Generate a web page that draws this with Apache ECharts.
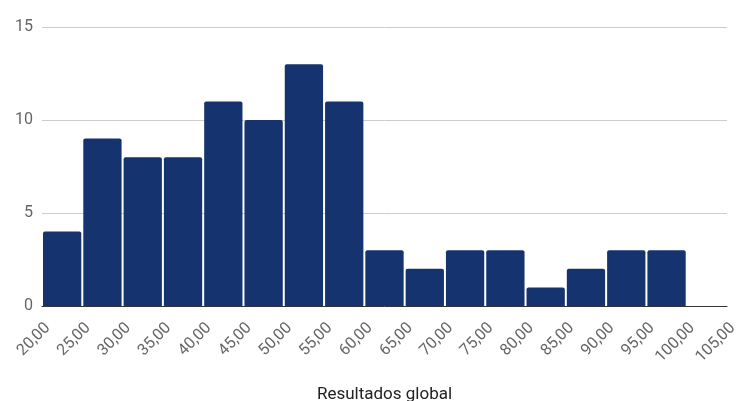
<!DOCTYPE html>
<html>
<head>
<meta charset="utf-8">
<script src="https://cdn.jsdelivr.net/npm/echarts@6/dist/echarts.min.js"></script>
<style>
  html, body { margin: 0; padding: 0; background: #fff; }
  #chart { width: 738px; height: 401px; }
</style>
</head>
<body>
<div id="chart"></div>
<script>
// Histogram bins: lower edge of each 5-point interval and its count
const binStarts = [20, 25, 30, 35, 40, 45, 50, 55, 60, 65, 70, 75, 80, 85, 90, 95, 100];
const binWidth = 5;
const counts = [4, 9, 8, 8, 11, 10, 13, 11, 3, 2, 3, 3, 1, 2, 3, 3, 0];
const axisTitle = 'Resultados global';

const data = binStarts.map((s, i) => [s, s + binWidth, counts[i]]);

const chart = echarts.init(document.getElementById('chart'), null, { renderer: 'canvas' });

chart.setOption({
  animation: false,
  backgroundColor: '#ffffff',
  grid: { left: 42, right: 11, top: 27, bottom: 95, containLabel: false, outerBoundsMode: 'none' },
  xAxis: {
    type: 'value',
    min: 20,
    max: 105,
    interval: 5,
    name: axisTitle,
    nameLocation: 'middle',
    nameGap: 80,
    nameTextStyle: { fontFamily: 'Roboto', fontSize: 17, color: '#222222', verticalAlign: 'top' },
    axisLine: { show: true, onZero: false, lineStyle: { color: '#333333', width: 1 } },
    axisTick: { show: false },
    splitLine: { show: false },
    axisLabel: {
      rotate: 45,
      margin: 14,
      verticalAlign: 'top',
      fontFamily: 'Roboto',
      fontSize: 16,
      color: '#666666',
      formatter: v => v.toFixed(2).replace('.', ',')
    }
  },
  yAxis: {
    type: 'value',
    min: 0,
    max: 15,
    interval: 5,
    axisLine: { show: false },
    axisTick: { show: false },
    splitLine: { lineStyle: { color: '#cccccc', width: 1 } },
    axisLabel: { fontFamily: 'Roboto', fontSize: 16, color: '#666666', margin: 9 }
  },
  series: [{
    type: 'custom',
    data: data,
    encode: { x: [0, 1], y: 2 },
    renderItem: function (params, api) {
      const v = api.value(2);
      if (v <= 0) return null;
      const p0 = api.coord([api.value(0), v]);
      const p1 = api.coord([api.value(1), 0]);
      const x = p0[0] + 1;
      const w = p1[0] - p0[0] - 2;
      return {
        type: 'rect',
        shape: { x: x, y: p0[1], width: w, height: p1[1] - p0[1], r: [2, 2, 0, 0] },
        style: { fill: '#15336f' }
      };
    }
  }]
});
</script>
</body>
</html>
